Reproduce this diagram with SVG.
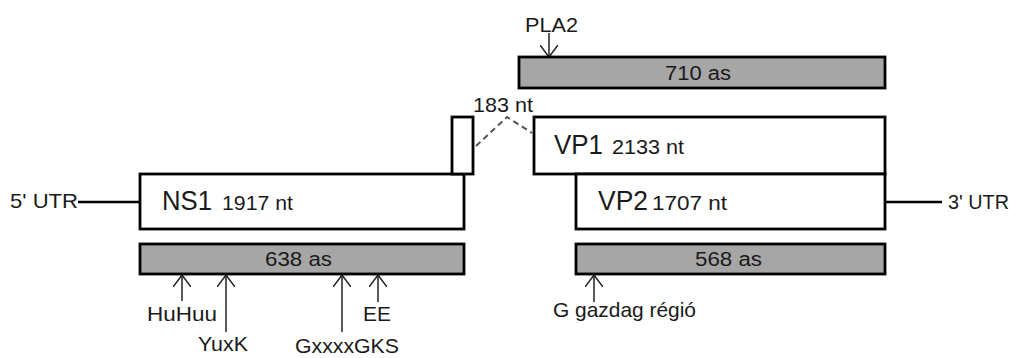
<svg xmlns="http://www.w3.org/2000/svg" width="1018" height="358" viewBox="0 0 1018 358">
<defs>
<style>
text{font-family:"Liberation Sans",Arial,sans-serif;fill:#1a1a1a}
.box{fill:#fff;stroke:#000;stroke-width:2.8}
.bar{fill:#a6a6a6;stroke:#000;stroke-width:2.8}
.big{font-size:27px}
.mid{font-size:20px}
.lab{font-size:21px}
.ln{stroke:#000;stroke-width:2.5;fill:none}
.arr{stroke:#222;stroke-width:1.5;fill:none;marker-end:url(#ah)}
.dash{stroke:#555;stroke-width:2;fill:none;stroke-dasharray:6 4}
</style>
<marker id="ah" viewBox="0 0 12 18" refX="12" refY="9" markerWidth="12" markerHeight="18" markerUnits="userSpaceOnUse" orient="auto">
<path d="M0,0 L12,9 L0,18" fill="none" stroke="#222" stroke-width="1.5"/>
</marker>
</defs>
<rect width="1018" height="358" fill="#fff"/>
<g id="connectors">
<line class="ln" x1="78" y1="202" x2="140" y2="202"/>
<line class="ln" x1="885" y1="202" x2="942" y2="202"/>
<polyline class="dash" points="476,146 507,117 532,133"/>
<line class="arr" x1="549" y1="33" x2="549" y2="57"/>
<line class="arr" x1="182" y1="301" x2="182" y2="275"/>
<line class="arr" x1="226" y1="332" x2="226" y2="275"/>
<line class="arr" x1="342" y1="332" x2="342" y2="275"/>
<line class="arr" x1="378" y1="302" x2="378" y2="275"/>
<line class="arr" x1="594" y1="302" x2="594" y2="275"/>
</g>
<g id="utr5"><text class="lab" x="10" y="208" textLength="68" lengthAdjust="spacingAndGlyphs">5' UTR</text></g>
<g id="utr3"><text class="lab" x="948" y="209" textLength="61" lengthAdjust="spacingAndGlyphs">3' UTR</text></g>
<g id="ns1">
<rect class="box" x="140" y="174" width="324" height="55"/>
<text class="big" x="162" y="210" textLength="50" lengthAdjust="spacingAndGlyphs">NS1</text>
<text class="mid" x="222" y="210" textLength="71" lengthAdjust="spacingAndGlyphs">1917 nt</text>
</g>
<g id="exon">
<rect class="box" x="452" y="117" width="21" height="57"/>
</g>
<g id="vp1">
<rect class="box" x="534" y="117" width="351" height="57"/>
<text class="big" x="554" y="154" textLength="49" lengthAdjust="spacingAndGlyphs">VP1</text>
<text class="mid" x="612" y="154" textLength="72" lengthAdjust="spacingAndGlyphs">2133 nt</text>
</g>
<g id="vp2">
<rect class="box" x="576" y="174" width="309" height="55"/>
<text class="big" x="598" y="210" textLength="50" lengthAdjust="spacingAndGlyphs">VP2</text>
<text class="mid" x="652" y="210" textLength="75" lengthAdjust="spacingAndGlyphs">1707 nt</text>
</g>
<g id="bar710">
<rect class="bar" x="519" y="57" width="366" height="31"/>
<text class="mid" x="665" y="80" textLength="66" lengthAdjust="spacingAndGlyphs">710 as</text>
</g>
<g id="bar638">
<rect class="bar" x="140" y="244" width="324" height="30"/>
<text class="mid" x="265" y="266" textLength="67" lengthAdjust="spacingAndGlyphs">638 as</text>
</g>
<g id="bar568">
<rect class="bar" x="576" y="244" width="309" height="30"/>
<text class="mid" x="695" y="266" textLength="67" lengthAdjust="spacingAndGlyphs">568 as</text>
</g>
<g id="label183"><text class="lab" x="473" y="112" textLength="60" lengthAdjust="spacingAndGlyphs">183 nt</text></g>
<g id="pla2"><text class="lab" x="525" y="32" textLength="53" lengthAdjust="spacingAndGlyphs">PLA2</text></g>
<g id="huhuu"><text class="lab" x="147" y="321" textLength="70" lengthAdjust="spacingAndGlyphs">HuHuu</text></g>
<g id="yuxk"><text class="lab" x="198" y="351" textLength="50" lengthAdjust="spacingAndGlyphs">YuxK</text></g>
<g id="gks"><text class="lab" x="295" y="353" textLength="104" lengthAdjust="spacingAndGlyphs">GxxxxGKS</text></g>
<g id="ee"><text class="lab" x="363" y="321" textLength="28" lengthAdjust="spacingAndGlyphs">EE</text></g>
<g id="grich"><text class="lab" x="553" y="317" textLength="143" lengthAdjust="spacingAndGlyphs">G gazdag régió</text></g>
</svg>
